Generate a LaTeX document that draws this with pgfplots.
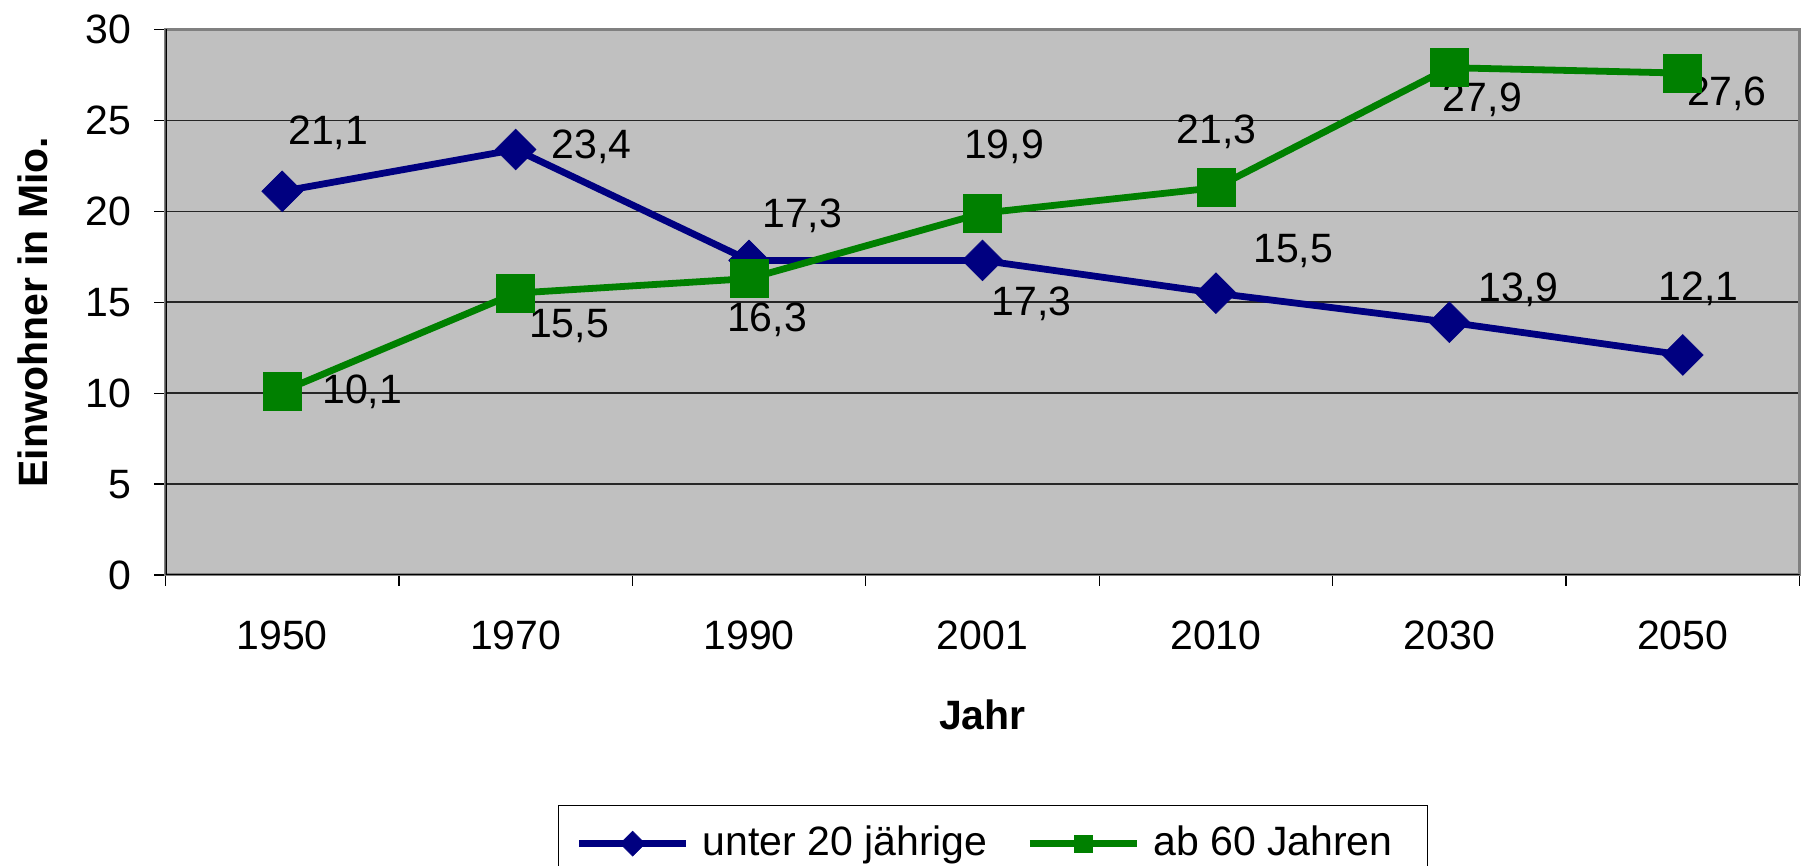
\documentclass[border=0pt]{standalone}
\usepackage{fontspec}
\setmainfont{Liberation Sans}
\usepackage{pgfplots}
\pgfplotsset{compat=1.18}
\definecolor{cblue}{HTML}{000080}
\definecolor{cgreen}{HTML}{008000}
\definecolor{cbg}{HTML}{C0C0C0}
\definecolor{cborder}{HTML}{808080}
\begin{document}
\fontsize{20.5pt}{24pt}\selectfont
\begin{tikzpicture}
\path[use as bounding box] (0,0) rectangle (905pt,433pt);
\begin{axis}[
  at={(82.75pt,145.5pt)}, anchor=south west,
  scale only axis, width=817pt, height=272.75pt,
  xmin=-0.5, xmax=6.5, ymin=0, ymax=30,
  /pgf/number format/assume math mode=true,
  xtick={-0.5,0.5,...,6.5}, xticklabels={},
  extra x ticks={0,1,2,3,4,5,6},
  extra x tick labels={1950,1970,1990,2001,2010,2030,2050},
  extra x tick style={major tick length=0pt, grid=none,
    xticklabel style={anchor=center, inner sep=0pt, text depth=0pt, yshift=-30pt}},
  ytick={0,5,...,30},
  yticklabel style={anchor=east, inner sep=0pt, text depth=0pt, xshift=-11.5pt},
  tick pos=left, tick align=outside, major tick length=5.5pt,
  tick style={black, line width=0.6pt},
  ymajorgrids, grid style={black!85, line width=0.75pt},
  axis background/.style={fill=cbg},
  axis line style={draw=cborder, line width=1.5pt},
  xlabel={\bfseries Jahr},
  xlabel style={at={(axis description cs:0.5,0)}, anchor=center, inner sep=0pt, text depth=0pt, yshift=-70pt},
  ylabel={\bfseries Einwohner in Mio.},
  ylabel style={at={(axis description cs:-0.0811,0.482)}, anchor=center, inner sep=0pt},
  legend columns=2,
  legend style={at={(0.2402,-0.4216)}, anchor=north west, draw=black, line width=0.75pt,
    fill=white, inner xsep=8.5pt, inner ysep=10pt,
    nodes={inner sep=0pt},
    /tikz/every odd column/.append style={column sep=6.5pt},
    /tikz/every even column/.append style={column sep=19.5pt}},
  legend image code/.code={%
    \draw[#1, line width=3.4pt] (0pt,0pt) -- (53.5pt,0pt);
    \draw[#1, mark size=4.4pt] plot coordinates {(26.75pt,0pt)};},
]
\addplot[cblue, line width=3.4pt, mark=square*, mark size=7.2pt,
  mark options={solid, rotate=45, line width=0.3pt, fill=cblue}]
  coordinates {(0,21.1) (1,23.4) (2,17.3) (3,17.3) (4,15.5) (5,13.9) (6,12.1)};
\addlegendentry{unter 20 jährige}
\addplot[cgreen, line width=3.4pt, mark=square*, mark size=9.5pt,
  mark options={solid, line width=0.3pt, fill=cgreen}]
  coordinates {(0,10.1) (1,15.5) (2,16.3) (3,19.9) (4,21.3) (5,27.9) (6,27.6)};
\addlegendentry{ab 60 Jahren\hspace*{9pt}}
\draw[black, line width=1pt] (rel axis cs:0,1) -- (rel axis cs:0,0) -- (rel axis cs:1,0);
\tikzset{lbl/.style={inner sep=0pt, text depth=0pt, anchor=center}}
\node[lbl] at (axis cs:0.197,24.47) {21,1};
\node[lbl] at (axis cs:1.326,23.70) {23,4};
\node[lbl] at (axis cs:2.228,19.89) {17,3};
\node[lbl] at (axis cs:3.211,15.05) {17,3};
\node[lbl] at (axis cs:4.331,17.97) {15,5};
\node[lbl] at (axis cs:5.297,15.82) {13,9};
\node[lbl] at (axis cs:6.069,15.86) {12,1};
\node[lbl] at (axis cs:0.343,10.23) {10,1};
\node[lbl] at (axis cs:1.229,13.84) {15,5};
\node[lbl] at (axis cs:2.077,14.17) {16,3};
\node[lbl] at (axis cs:3.092,23.67) {19,9};
\node[lbl] at (axis cs:4.003,24.51) {21,3};
\node[lbl] at (axis cs:5.140,26.27) {27,9};
\node[lbl] at (axis cs:6.189,26.60) {27,6};
\end{axis}
\end{tikzpicture}
\end{document}
